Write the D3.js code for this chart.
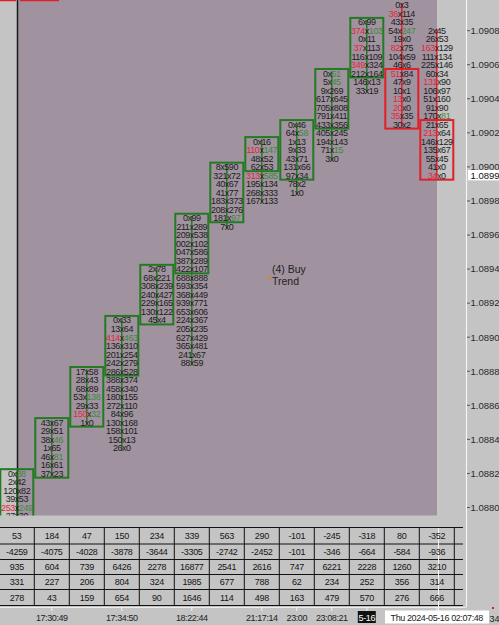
<!DOCTYPE html>
<html lang="en">
<head>
<meta charset="utf-8">
<title>Footprint chart</title>
<script src="https://cdn.jsdelivr.net/npm/d3@7/dist/d3.min.js"></script>
<style>
  body { margin: 0; background: #c4c4c4; }
  svg { display: block; }
  text { font-family: "Liberation Sans", Arial, sans-serif; }
</style>
</head>
<body>
<div id="chart"></div>
<script>
// price of the top row of every bar, rows go down by one tick each
var tick = 0.00005;
var tops = [1.08820, 1.08850, 1.08880, 1.08910, 1.08940, 1.08970, 1.09000,
            1.09015, 1.09025, 1.09055, 1.09085, 1.09095, 1.09080];
var opens = [1.08790, 1.08820, 1.08850, 1.08880, 1.08910, 1.08940, 1.08970,
             1.09000, 1.08995, 1.09025, 1.09055, 1.09055, 1.09025];
var closes = [1.08820, 1.08850, 1.08880, 1.08910, 1.08940, 1.08970, 1.09000,
              1.09015, 1.09025, 1.09055, 1.09085, 1.09025, 1.08995];

// bid x ask per row, r = red bid, g = green ask
var rows = [
  ["0x38g","2x42","120x82","39x53","253rx249g","27x30"],
  ["43x67","29x51","38x46g","1x65","46x81g","16x61","37x23"],
  ["17x58","28x43","68x89","53x138g","29x33","150rx32g","1x0"],
  ["0x33","13x64","414rx463g","136x310","201x254","242x279","286x528","388x374","458x340",
   "180x155","272x110","84x96","130x168","158x101","150x13","26x0"],
  ["2x78","68x221","308x239","240x427","229x165","130x122","45x4"],
  ["0x99","211x289","209x538","002x102","047x586","387x289","422x107","688x888","593x354",
   "368x449","939x771","653x606","224x367","205x235","627x429","365x481","241x67","88x59"],
  ["8x590","321x72","40x67","41x77","183x373","208x276","181x97g","7x0"],
  ["0x16","110rx147g","48x52","62x53","313rx585g","195x134","268x333","167x133"],
  ["0x46","64x58g","1x13","9x33","43x71","131x66","97x34","78x2","1x0"],
  ["0x51g","5x45g","9x269","617x645","705x808","791x411","433x356","405x245","194x143","71x15g","3x0"],
  ["6x99","374rx103g","0x11","37rx113","116x109","349rx324","212x164","146x13","33x19"],
  ["0x3","36rx114","43x35","54x247g","19x0","82rx75","104x59","46x6","51rx84","47x9","10x1",
   "13rx0","20rx0","35rx35","30x2"],
  ["2x45","26x53","163rx129","111x134","225x146","60x34","131rx90","106x97","51x160","91x90",
   "170x81g","21x65","213rx64","146x129","135x67","55x45","41x0","34rx0"]
];

var deltaRow = [53, 184, 47, 150, 234, 339, 563, 290, -101, -245, -318, 80, -352];
var cumDeltaRow = [-4259, -4075, -4028, -3878, -3644, -3305, -2742, -2452, -101, -346, -664, -584, -936];
var volumeRow = [935, 604, 739, 6426, 2278, 16877, 2541, 2616, 747, 6221, 2228, 1260, 3210];
var row4 = [331, 227, 206, 804, 324, 1985, 677, 788, 62, 234, 252, 356, 314];
var row5 = [278, 43, 159, 654, 90, 1646, 114, 498, 163, 479, 570, 276, 666];
var timeLabels = ["", "17:30:49", "", "17:34:50", "", "18:22:44", "", "21:17:14",
                  "23:00", "23:08:21", "5-16", "", "Thu 2024-05-16 02:07:48"];
var priceTicks = [1.08800, 1.08820, 1.08840, 1.08860, 1.08880, 1.08900, 1.08920, 1.08940,
                  1.08960, 1.08980, 1.09000, 1.09020, 1.09040, 1.09060, 1.09080];
var lastPrice = 1.08995;

var w = 499, h = 625;
var plotBottom = 515.5;
var green = "#237a23", red = "#e41e26";
var txtGreen = "#3b8a3b", txtRed = "#e8253a", txtDark = "#1c1c1c";

var svg = d3.select("#chart").append("svg")
  .attr("width", w).attr("height", h);

var x = d3.scaleBand().domain(d3.range(13)).range([-0.7, 454.3]).padding(0);
var y = d3.scaleLinear().domain([1.088, 1.091]).range([507.5, -3.4]);
var rowH = y(0) - y(tick);

// backgrounds
svg.append("rect").attr("width", w).attr("height", h).attr("fill", "#c4c4c4");
svg.append("rect").attr("x", 17).attr("y", 0).attr("width", 437 - 17).attr("height", plotBottom)
  .attr("fill", "#a0939f");
svg.append("line").attr("x1", 17.5).attr("x2", 17.5).attr("y1", 0).attr("y2", plotBottom)
  .attr("stroke", "#1a1a1a").attr("stroke-width", 1.5);
svg.append("line").attr("x1", 0).attr("x2", 16).attr("y1", 0.5).attr("y2", 0.5)
  .attr("stroke", red).attr("stroke-width", 1.5);
svg.append("line").attr("x1", 20).attr("x2", 59).attr("y1", 0.5).attr("y2", 0.5)
  .attr("stroke", red).attr("stroke-width", 1.5);

svg.append("clipPath").attr("id", "plotclip").append("rect")
  .attr("x", 0).attr("y", 0).attr("width", 466).attr("height", plotBottom);

var plot = svg.append("g").attr("clip-path", "url(#plotclip)");

var candles = d3.range(13).map(function(i) {
  var up = closes[i] >= opens[i];
  return {
    i: i, up: up,
    hi: tops[i], lo: tops[i] - (rows[i].length - 1) * tick,
    bodyTop: Math.max(opens[i], closes[i]), bodyBot: Math.min(opens[i], closes[i]),
    rows: rows[i].map(function(s, k) {
      var p = s.split("x");
      return { price: tops[i] - k * tick, bid: p[0], ask: p[1] };
    })
  };
});

function cx(i) { return x(i) + x.bandwidth() / 2; }

// wicks
plot.selectAll("line.wick").data(candles).enter().append("line")
  .attr("class", "wick")
  .attr("x1", function(d) { return cx(d.i); })
  .attr("x2", function(d) { return cx(d.i); })
  .attr("y1", function(d) { return y(d.hi) - 2; })
  .attr("y2", function(d) { return y(d.lo) + 2; })
  .attr("stroke", function(d) { return d.up ? green : red; })
  .attr("stroke-width", 1.5);

// bodies
plot.selectAll("rect.body").data(candles).enter().append("rect")
  .attr("class", "body")
  .attr("x", function(d) { return x(d.i) + 1; })
  .attr("width", x.bandwidth() - 2)
  .attr("y", function(d) { return y(d.bodyTop) - rowH / 2; })
  .attr("height", function(d) { return y(d.bodyBot) - y(d.bodyTop) + rowH; })
  .attr("fill", "none")
  .attr("stroke", function(d) { return d.up ? green : red; })
  .attr("stroke-width", 2);

// bid x ask cells
function part(s) {
  var c = s.slice(-1);
  if (c === "r") return { t: s.slice(0, -1), col: txtRed };
  if (c === "g") return { t: s.slice(0, -1), col: txtGreen };
  return { t: s, col: txtDark };
}

candles.forEach(function(c) {
  plot.append("g").selectAll("text").data(c.rows).enter().append("text")
    .attr("x", cx(c.i))
    .attr("y", function(d) { return y(d.price) + 3.3; })
    .attr("text-anchor", "middle")
    .attr("font-size", "9px")
    .attr("letter-spacing", "-0.45px")
    .each(function(d) {
      var b = part(d.bid), a = part(d.ask);
      var t = d3.select(this);
      t.append("tspan").attr("fill", b.col).text(b.t);
      t.append("tspan").attr("fill", txtDark).text("x");
      t.append("tspan").attr("fill", a.col).text(a.t);
    });
});

// annotation
svg.append("rect").attr("x", 268.5).attr("y", 276.5).attr("width", 2).attr("height", 3)
  .attr("fill", "#e08020");
svg.append("text").attr("x", 272).attr("y", 273).attr("font-size", "10.5px")
  .attr("fill", "#222").text("(4) Buy");
svg.append("text").attr("x", 272).attr("y", 285).attr("font-size", "10.5px")
  .attr("fill", "#222").text("Trend");

// price axis
svg.append("line").attr("x1", 466.5).attr("x2", 466.5).attr("y1", 0).attr("y2", 607)
  .attr("stroke", "#f4f4f4").attr("stroke-width", 1.2);
var yAxis = svg.append("g").selectAll("g").data(priceTicks).enter().append("g");
yAxis.append("line")
  .attr("x1", 467).attr("x2", 470)
  .attr("y1", function(d) { return y(d); }).attr("y2", function(d) { return y(d); })
  .attr("stroke", "#555");
yAxis.append("text")
  .attr("x", 470.5).attr("y", function(d) { return y(d) + 3.3; })
  .attr("font-size", "9.5px").attr("fill", "#2a2a2a")
  .text(function(d) { return d3.format(".5f")(d); });

svg.append("rect").attr("x", 468).attr("y", y(lastPrice) - 5.5).attr("width", 31).attr("height", 10.5)
  .attr("fill", "#ffffff");
svg.append("text").attr("x", 470.5).attr("y", y(lastPrice) + 3.3)
  .attr("font-size", "9.5px").attr("fill", "#111").text(d3.format(".5f")(lastPrice));

// stats table
var tableRows = [deltaRow, cumDeltaRow, volumeRow, row4, row5];
var rowEdges = [527.5, 544, 559.5, 574.5, 589.5, 605.5];
var table = svg.append("g");
rowEdges.forEach(function(e) {
  table.append("line").attr("x1", 0).attr("x2", 463).attr("y1", e).attr("y2", e)
    .attr("stroke", "#111").attr("stroke-width", 1);
});
d3.range(13).forEach(function(i) {
  table.append("line").attr("x1", x(i) + x.bandwidth()).attr("x2", x(i) + x.bandwidth())
    .attr("y1", rowEdges[0]).attr("y2", rowEdges[5])
    .attr("stroke", "#111").attr("stroke-width", 1);
});
table.append("line").attr("x1", 438.5).attr("x2", 438.5).attr("y1", 528).attr("y2", 611)
  .attr("stroke", "#f4f4f4").attr("stroke-width", 1);
tableRows.forEach(function(vals, r) {
  table.append("g").selectAll("text").data(vals).enter().append("text")
    .attr("x", function(d, i) { return cx(i); })
    .attr("y", (rowEdges[r] + rowEdges[r + 1]) / 2 + 3.3)
    .attr("text-anchor", "middle")
    .attr("font-size", "9px")
    .attr("letter-spacing", "-0.3px")
    .attr("fill", "#151515")
    .text(function(d) { return d; });
});

// time axis
svg.append("line").attr("x1", 0).attr("x2", 466).attr("y1", 607.5).attr("y2", 607.5)
  .attr("stroke", "#ececec").attr("stroke-width", 1);
var tl = svg.append("g").selectAll("g").data(timeLabels).enter().append("g")
  .filter(function(d) { return d !== ""; });
tl.append("line")
  .attr("x1", function(d, i) { return cx(timeLabels.indexOf(d)); })
  .attr("x2", function(d, i) { return cx(timeLabels.indexOf(d)); })
  .attr("y1", 607).attr("y2", 611)
  .attr("stroke", "#f4f4f4");
tl.each(function(d) {
  var i = timeLabels.indexOf(d);
  var g = d3.select(this);
  if (d === "5-16") {
    g.append("rect").attr("x", cx(i) - 9).attr("y", 611).attr("width", 18).attr("height", 12)
      .attr("fill", "#111");
  }
  if (i === 12) {
    g.append("rect").attr("x", 385).attr("y", 610.5).attr("width", 104).attr("height", 13)
      .attr("fill", "#ffffff");
  }
  g.append("text")
    .attr("x", cx(i)).attr("y", 621)
    .attr("text-anchor", "middle")
    .attr("font-size", "9px")
    .attr("letter-spacing", "-0.4px")
    .attr("fill", d === "5-16" ? "#ffffff" : "#222")
    .text(d);
});
svg.append("text").attr("x", 489.5).attr("y", 622).attr("font-size", "9px")
  .attr("fill", "#222").text("34");
svg.append("rect").attr("x", 492).attr("y", 607).attr("width", 2).attr("height", 2).attr("fill", red);
</script>
</body>
</html>
